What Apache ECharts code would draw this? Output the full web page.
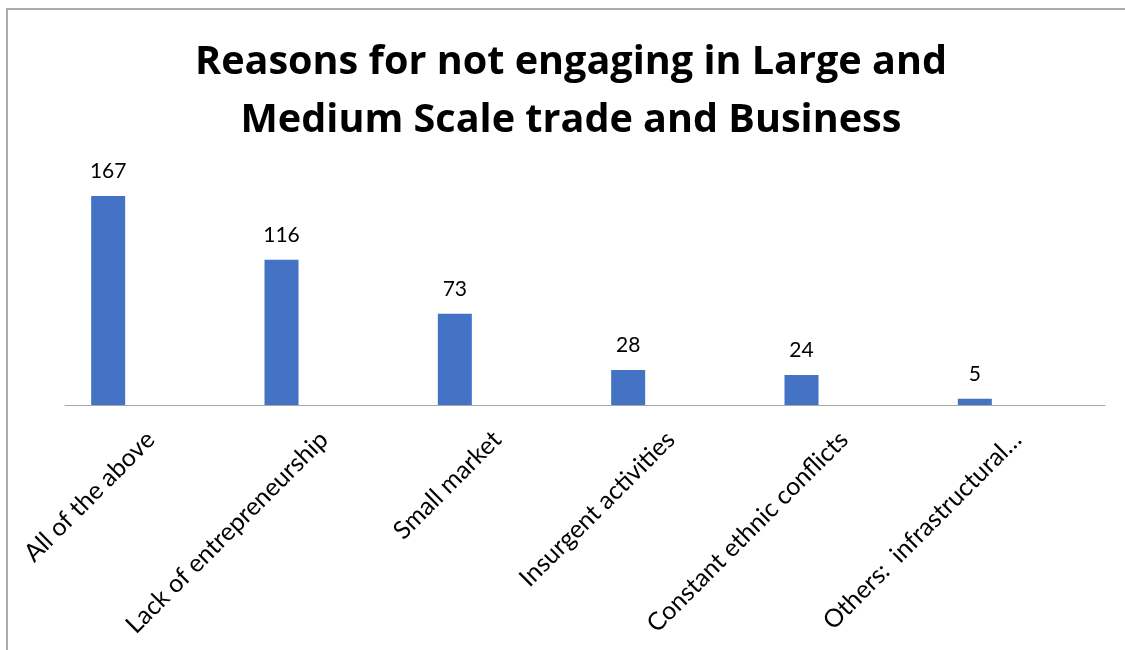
<!DOCTYPE html>
<html>
<head>
<meta charset="utf-8">
<script src="https://cdn.jsdelivr.net/npm/echarts@6/dist/echarts.min.js"></script>
<style>
  html, body { margin: 0; padding: 0; background: #fff; }
  #chart { width: 1125px; height: 650px; }
</style>
</head>
<body>
<div id="chart"></div>
<script>
// Survey responses: reasons for not engaging in large and medium scale trade
const chartTitle = 'Reasons for not engaging in Large and\nMedium Scale trade and Business';
const categories = [
  'All of the above',
  'Lack of entrepreneurship',
  'Small market',
  'Insurgent activities',
  'Constant ethnic conflicts',
  'Others:  infrastructural…'
];
const responses = [167, 116, 73, 28, 24, 5];

const FONT = 'Lato, "Open Sans", sans-serif';
const TITLE_FONT = '"Open Sans", Lato, sans-serif';

const chart = echarts.init(document.getElementById('chart'), null, { renderer: 'canvas' });

chart.setOption({
  backgroundColor: '#ffffff',
  animation: false,
  title: {
    text: chartTitle,
    left: 566,
    textAlign: 'center',
    top: 29,
    textStyle: {
      fontFamily: TITLE_FONT,
      fontWeight: 'bold',
      fontSize: 39.6,
      lineHeight: 58,
      color: '#000000'
    }
  },
  grid: [
    // plot area holding the bars and category labels
    { left: 21.5, right: 63.5, top: 154.7, bottom: 245, containLabel: false },
    // baseline rule spanning the full plot width
    { left: 65, right: 20, top: 154.7, bottom: 245, containLabel: false }
  ],
  xAxis: [{
    type: 'category',
    gridIndex: 0,
    data: categories,
    axisLine: { show: false },
    axisTick: { show: false },
    axisLabel: {
      interval: 0,
      rotate: 45,
      margin: 73,
      padding: [0, -60, 0, 0],
      fontFamily: FONT,
      fontSize: 25,
      color: '#000000'
    }
  }, {
    type: 'category',
    gridIndex: 1,
    data: [''],
    axisLine: { show: true, lineStyle: { color: '#a6a6a6', width: 1 } },
    axisTick: { show: false },
    axisLabel: { show: false }
  }],
  yAxis: [{
    type: 'value',
    gridIndex: 0,
    min: 0,
    max: 200,
    show: false,
    splitLine: { show: false }
  }, {
    type: 'value',
    gridIndex: 1,
    min: 0,
    max: 200,
    show: false,
    splitLine: { show: false }
  }],
  series: [{
    type: 'bar',
    xAxisIndex: 0,
    yAxisIndex: 0,
    data: responses,
    barWidth: 34,
    z: 3,
    itemStyle: { color: '#4472C4' },
    label: {
      show: true,
      position: 'top',
      distance: 14,
      fontFamily: FONT,
      fontSize: 21,
      color: '#000000'
    }
  }],
  graphic: [{
    type: 'polyline',
    shape: { points: [[7, 660], [7, 9], [1130, 9]] },
    style: { stroke: '#ababab', lineWidth: 2, fill: null },
    silent: true
  }]
});
</script>
</body>
</html>
